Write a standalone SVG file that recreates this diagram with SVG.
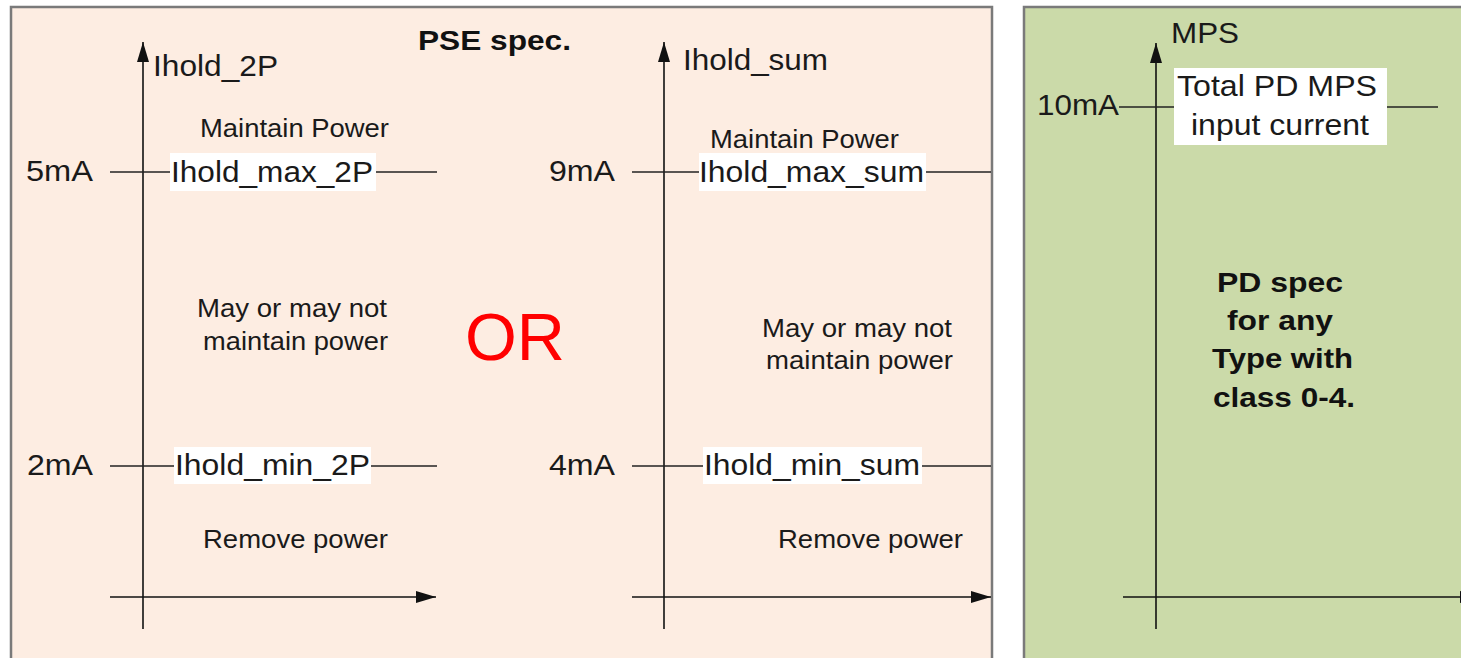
<svg xmlns="http://www.w3.org/2000/svg" width="1461" height="658" viewBox="0 0 1461 658">
<defs>
<style>
.t{font-family:"Liberation Sans",Arial,sans-serif;font-size:30px;fill:#1a1a1a;}
.s{font-family:"Liberation Sans",Arial,sans-serif;font-size:26px;fill:#1a1a1a;}
.b{font-family:"Liberation Sans",Arial,sans-serif;font-size:28px;font-weight:bold;fill:#111;}
.ax{stroke:#111;stroke-width:1.6;fill:none;}
.tk{stroke:#222;stroke-width:1.4;fill:none;}
.lbl{fill:#ffffff;}
</style>
<marker id="ah" markerUnits="userSpaceOnUse" markerWidth="22" markerHeight="12" refX="20" refY="6" orient="auto">
<path d="M0,0 L20,6 L0,12 z" fill="#111"/>
</marker>
</defs>
<rect width="1461" height="658" fill="#ffffff"/>
<g id="pse-panel">
<rect x="11" y="7" width="981" height="670" fill="#fdede2" stroke="#7a7a7a" stroke-width="2.5"/>
<text class="b" x="418" y="50" textLength="153" lengthAdjust="spacingAndGlyphs">PSE spec.</text>
<text x="465" y="360" font-family="Liberation Sans, Arial, sans-serif" font-size="66" fill="#ff0000" textLength="100" lengthAdjust="spacingAndGlyphs">OR</text>
</g>
<g id="pd-panel">
<rect x="1024" y="7" width="460" height="670" fill="#cbdaa9" stroke="#7a7a7a" stroke-width="2.5"/>
<text class="b" x="1217" y="292" textLength="126" lengthAdjust="spacingAndGlyphs">PD spec</text>
<text class="b" x="1227" y="330" textLength="106" lengthAdjust="spacingAndGlyphs">for any</text>
<text class="b" x="1212" y="368" textLength="141" lengthAdjust="spacingAndGlyphs">Type with</text>
<text class="b" x="1213" y="407" textLength="142" lengthAdjust="spacingAndGlyphs">class 0-4.</text>
</g>
<g id="connectors">
<line class="ax" x1="143" y1="629" x2="143" y2="42" marker-end="url(#ah)"/>
<line class="ax" x1="110" y1="597" x2="436" y2="597" marker-end="url(#ah)"/>
<line class="ax" x1="664" y1="629" x2="664" y2="42" marker-end="url(#ah)"/>
<line class="ax" x1="632" y1="597" x2="991" y2="597" marker-end="url(#ah)"/>
<line class="ax" x1="1156" y1="629" x2="1156" y2="43" marker-end="url(#ah)"/>
<line class="ax" x1="1123" y1="597" x2="1480" y2="597" marker-end="url(#ah)"/>
<line class="tk" x1="110" y1="172" x2="437" y2="172"/>
<line class="tk" x1="110" y1="466" x2="437" y2="466"/>
<line class="tk" x1="632" y1="172" x2="991" y2="172"/>
<line class="tk" x1="632" y1="466" x2="991" y2="466"/>
<line class="tk" x1="1119" y1="107" x2="1438" y2="107"/>
</g>
<g id="axis-2p">
<text class="t" x="153" y="76" textLength="125" lengthAdjust="spacingAndGlyphs">Ihold_2P</text>
<text class="s" x="200" y="137" textLength="189" lengthAdjust="spacingAndGlyphs">Maintain Power</text>
<text class="s" x="197" y="317" textLength="190" lengthAdjust="spacingAndGlyphs">May or may not</text>
<text class="s" x="203" y="350" textLength="185" lengthAdjust="spacingAndGlyphs">maintain power</text>
<text class="s" x="203" y="548" textLength="185" lengthAdjust="spacingAndGlyphs">Remove power</text>
</g>
<g id="level-5ma">
<text class="t" x="26" y="181" textLength="67" lengthAdjust="spacingAndGlyphs">5mA</text>
<rect class="lbl" x="170" y="153" width="206" height="38"/>
<text class="t" x="171" y="182" textLength="202" lengthAdjust="spacingAndGlyphs">Ihold_max_2P</text>
</g>
<g id="level-2ma">
<text class="t" x="27" y="475" textLength="66" lengthAdjust="spacingAndGlyphs">2mA</text>
<rect class="lbl" x="174" y="447" width="197" height="37"/>
<text class="t" x="175" y="475" textLength="195" lengthAdjust="spacingAndGlyphs">Ihold_min_2P</text>
</g>
<g id="axis-sum">
<text class="t" x="683" y="70" textLength="145" lengthAdjust="spacingAndGlyphs">Ihold_sum</text>
<text class="s" x="710" y="148" textLength="189" lengthAdjust="spacingAndGlyphs">Maintain Power</text>
<text class="s" x="762" y="337" textLength="190" lengthAdjust="spacingAndGlyphs">May or may not</text>
<text class="s" x="766" y="369" textLength="187" lengthAdjust="spacingAndGlyphs">maintain power</text>
<text class="s" x="778" y="548" textLength="185" lengthAdjust="spacingAndGlyphs">Remove power</text>
</g>
<g id="level-9ma">
<text class="t" x="549" y="181" textLength="66" lengthAdjust="spacingAndGlyphs">9mA</text>
<rect class="lbl" x="699" y="153" width="227" height="38"/>
<text class="t" x="699" y="182" textLength="225" lengthAdjust="spacingAndGlyphs">Ihold_max_sum</text>
</g>
<g id="level-4ma">
<text class="t" x="549" y="475" textLength="66" lengthAdjust="spacingAndGlyphs">4mA</text>
<rect class="lbl" x="703" y="447" width="219" height="37"/>
<text class="t" x="704" y="475" textLength="216" lengthAdjust="spacingAndGlyphs">Ihold_min_sum</text>
</g>
<g id="axis-mps">
<text class="t" x="1171" y="43" textLength="68" lengthAdjust="spacingAndGlyphs">MPS</text>
</g>
<g id="level-10ma">
<text class="t" x="1037" y="115" textLength="82" lengthAdjust="spacingAndGlyphs">10mA</text>
<rect class="lbl" x="1174" y="68" width="213" height="77"/>
<text class="t" x="1177" y="96" textLength="200" lengthAdjust="spacingAndGlyphs">Total PD MPS</text>
<text class="t" x="1191" y="135" textLength="178" lengthAdjust="spacingAndGlyphs">input current</text>
</g>
</svg>
